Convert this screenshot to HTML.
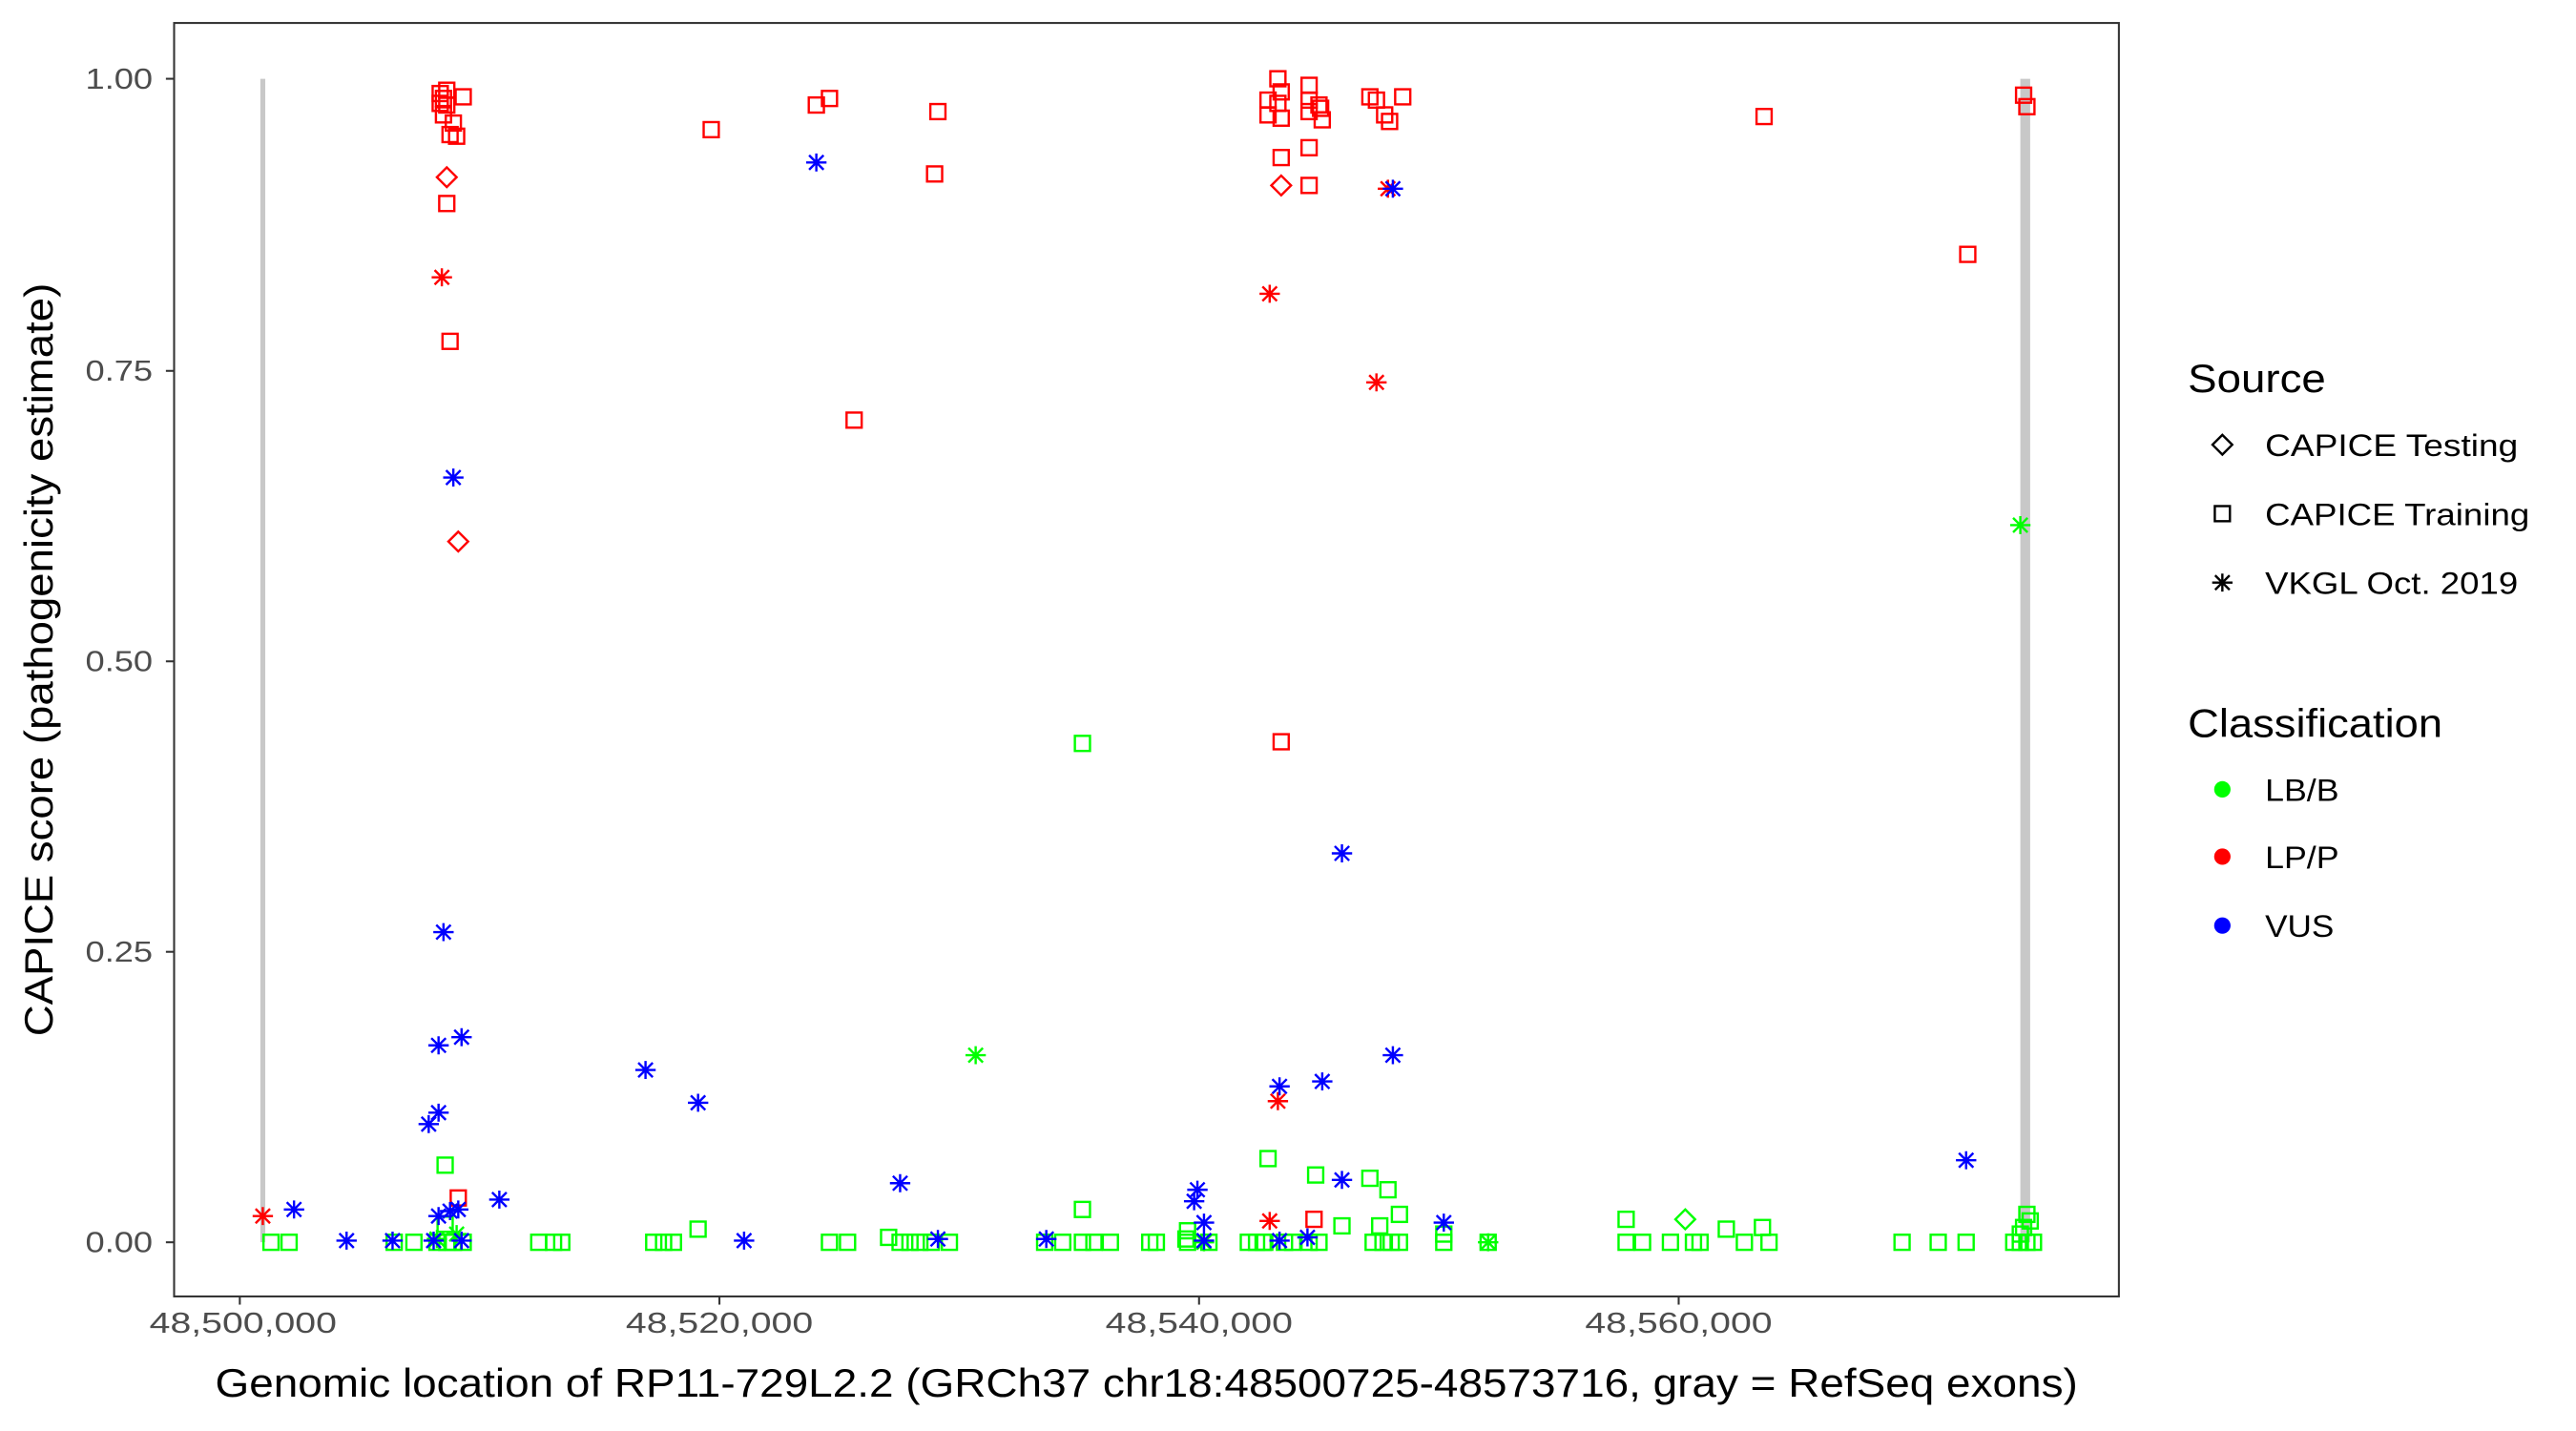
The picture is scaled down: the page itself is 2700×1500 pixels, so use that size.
<!DOCTYPE html>
<html><head><meta charset="utf-8"><style>html,body{margin:0;padding:0;background:#fff}svg{display:block}text{font-family:"Liberation Sans",sans-serif}</style></head>
<body>
<svg id="s" width="2700" height="1500" viewBox="0 0 1568.3 872" preserveAspectRatio="none" xmlns="http://www.w3.org/2000/svg">
<rect x="0" y="0" width="1600" height="900" fill="#fff"/>
<line x1="160" y1="48" x2="160" y2="757" stroke="#c8c8c8" stroke-width="3"/>
<line x1="1233" y1="48" x2="1233" y2="757" stroke="#c8c8c8" stroke-width="6"/>
<g id="pts"></g>
<rect x="106" y="14" width="1184" height="776" fill="none" stroke="#333" stroke-width="1.2"/>
<g stroke="#333" stroke-width="1.2">
<line x1="101" y1="48" x2="106" y2="48"/><line x1="101" y1="226" x2="106" y2="226"/><line x1="101" y1="403" x2="106" y2="403"/><line x1="101" y1="580" x2="106" y2="580"/><line x1="101" y1="757" x2="106" y2="757"/>
<line x1="146" y1="790" x2="146" y2="795"/><line x1="438" y1="790" x2="438" y2="795"/><line x1="730" y1="790" x2="730" y2="795"/><line x1="1022" y1="790" x2="1022" y2="795"/>
</g>
<g fill="#4d4d4d" font-size="17.5" text-anchor="end">
<text x="93" y="54" textLength="41" lengthAdjust="spacingAndGlyphs">1.00</text><text x="93" y="232" textLength="41" lengthAdjust="spacingAndGlyphs">0.75</text><text x="93" y="409" textLength="41" lengthAdjust="spacingAndGlyphs">0.50</text><text x="93" y="586" textLength="41" lengthAdjust="spacingAndGlyphs">0.25</text><text x="93" y="763" textLength="41" lengthAdjust="spacingAndGlyphs">0.00</text>
</g>
<g fill="#4d4d4d" font-size="17.5" text-anchor="middle">
<text x="148" y="812" textLength="114" lengthAdjust="spacingAndGlyphs">48,500,000</text><text x="438" y="812" textLength="114" lengthAdjust="spacingAndGlyphs">48,520,000</text><text x="730" y="812" textLength="114" lengthAdjust="spacingAndGlyphs">48,540,000</text><text x="1022" y="812" textLength="114" lengthAdjust="spacingAndGlyphs">48,560,000</text>
</g>
<text x="698" y="851" font-size="24" text-anchor="middle" fill="#000" textLength="1134" lengthAdjust="spacingAndGlyphs">Genomic location of RP11-729L2.2 (GRCh37 chr18:48500725-48573716, gray = RefSeq exons)</text>
<text transform="translate(32,402) rotate(-90)" font-size="24" text-anchor="middle" fill="#000" textLength="459" lengthAdjust="spacingAndGlyphs">CAPICE score (pathogenicity estimate)</text>
<text x="1332" y="239" font-size="24" textLength="84" lengthAdjust="spacingAndGlyphs">Source</text>
<g font-size="19" fill="#000">
<text x="1379" y="278" textLength="154" lengthAdjust="spacingAndGlyphs">CAPICE Testing</text><text x="1379" y="320" textLength="161" lengthAdjust="spacingAndGlyphs">CAPICE Training</text><text x="1379" y="362" textLength="154" lengthAdjust="spacingAndGlyphs">VKGL Oct. 2019</text>
</g>
<text x="1332" y="449" font-size="24" textLength="155" lengthAdjust="spacingAndGlyphs">Classification</text>
<g font-size="19" fill="#000">
<text x="1379" y="488" textLength="45" lengthAdjust="spacingAndGlyphs">LB/B</text><text x="1379" y="529" textLength="45" lengthAdjust="spacingAndGlyphs">LP/P</text><text x="1379" y="571" textLength="42" lengthAdjust="spacingAndGlyphs">VUS</text>
</g>
<circle cx="1353" cy="481" r="5" fill="#00ff00"/><circle cx="1353" cy="522" r="5" fill="#ff0000"/><circle cx="1353" cy="564" r="5" fill="#0000ff"/>
<g id="leg"></g>
</svg>
<script>
var NS="http://www.w3.org/2000/svg";
function mk(g,shape,x,y,c){
 var e;
 if(shape=="s"){e=document.createElementNS(NS,"rect");e.setAttribute("x",x-4.6);e.setAttribute("y",y-4.6);e.setAttribute("width",9.2);e.setAttribute("height",9.2);e.setAttribute("fill","none");e.setAttribute("stroke",c);e.setAttribute("stroke-width",1.4);}
 else if(shape=="d"){e=document.createElementNS(NS,"path");e.setAttribute("d","M"+x+" "+(y-6)+"L"+(x+6)+" "+y+"L"+x+" "+(y+6)+"L"+(x-6)+" "+y+"Z");e.setAttribute("fill","none");e.setAttribute("stroke",c);e.setAttribute("stroke-width",1.4);}
 else {e=document.createElementNS(NS,"path");var r=6.2;
 var d="M"+(x-r)+" "+y+"L"+(x+r)+" "+y+"M"+(x-4.4)+" "+(y-4.4)+"L"+(x+4.4)+" "+(y+4.4)+"M"+(x-4.4)+" "+(y+4.4)+"L"+(x+4.4)+" "+(y-4.4)+"M"+x+" "+(y-5.5)+"L"+x+" "+(y+5.5);
 e.setAttribute("d",d);e.setAttribute("fill","none");e.setAttribute("stroke",c);e.setAttribute("stroke-width",1.4);}
 g.appendChild(e);
}
var g=document.getElementById("pts"),R="#ff0000",G="#00ff00",B="#0000ff";
var gz=[165,176,240,252,266,282,328,337,342,398,404,410,505,516,548,554,560,567,578,636,647,659,666,676,700,704,723,736,760,765,770,782,787,797,803,836,842,847,852,879,906,990,1000,1017,1031,1035,1062,1077,1158,1180,1197,1226,1230,1234,1238,272,276,769];
gz.forEach(function(x){mk(g,"s",x,757,G)});
[[271,710],[271,746],[425,749],[541,754],[723,750],[659,453],[659,737],[772,706],[801,716],[834,718],[845,725],[852,740],[817,747],[840,747],[990,743],[1051,749],[1073,748],[1234,740],[1232,748],[1236,744],[722,755],[879,752],[1230,752]].forEach(function(p){mk(g,"s",p[0],p[1],G)});
mk(g,"d",1026,743,G);
[[594,643],[1230,320],[906,757],[733,757],[278,752],[266,755]].forEach(function(p){mk(g,"a",p[0],p[1],G)});
[[268,57],[270,60],[272,55],[268,63],[272,64],[270,70],[276,75],[278,83],[282,59],[274,82],[272,124],[274,208],[279,730],[433,79],[497,64],[505,60],[571,68],[569,106],[520,256],[772,70],[772,61],[778,48],[780,56],[778,63],[780,72],[780,96],[780,452],[797,52],[797,61],[797,68],[797,90],[797,113],[803,64],[805,73],[804,66],[834,59],[838,61],[843,70],[846,74],[854,59],[1074,71],[1198,155],[1232,58],[1234,65],[800,743]].forEach(function(p){mk(g,"s",p[0],p[1],R)});
[[272,108],[279,330],[780,113]].forEach(function(p){mk(g,"d",p[0],p[1],R)});
[[269,169],[160,741],[773,179],[838,233],[845,115],[778,671],[773,744]].forEach(function(p){mk(g,"a",p[0],p[1],R)});
[[276,291],[270,568],[267,637],[281,632],[267,678],[261,685],[267,741],[274,738],[279,737],[264,756],[281,756],[239,756],[211,756],[179,737],[304,731],[393,652],[425,672],[453,756],[497,99],[548,721],[571,755],[637,755],[727,732],[729,725],[733,745],[733,756],[779,662],[805,659],[817,520],[817,719],[848,115],[848,643],[879,745],[779,756],[796,754],[1197,707]].forEach(function(p){mk(g,"a",p[0],p[1],B)});
var L=document.getElementById("leg");
mk(L,"d",1353,271,"#000");mk(L,"s",1353,313,"#000");mk(L,"a",1353,355,"#000");
</script>
</body></html>
